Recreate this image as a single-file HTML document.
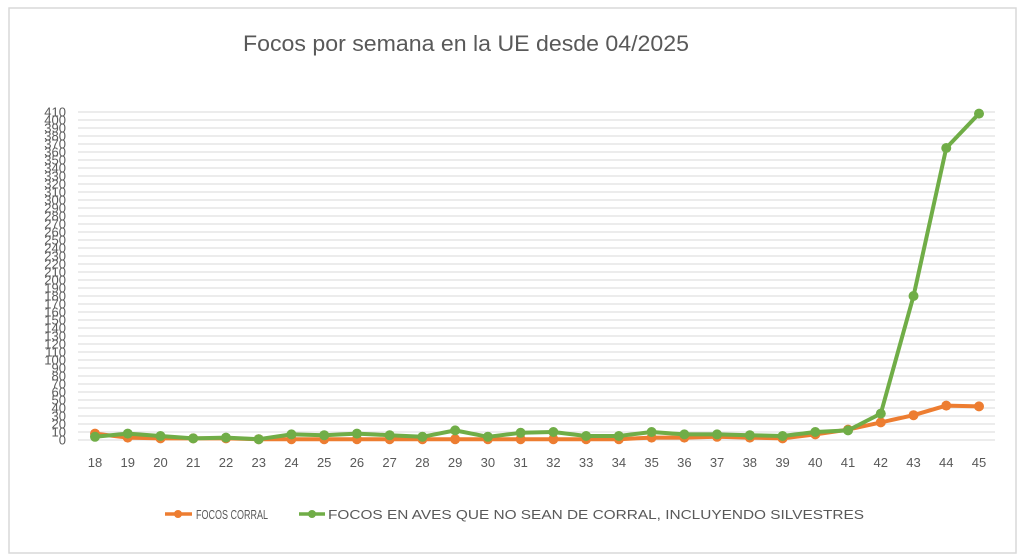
<!DOCTYPE html>
<html><head><meta charset="utf-8"><style>
html,body{margin:0;padding:0;background:#fff;}
svg{display:block;font-family:"Liberation Sans",sans-serif;}
</style></head><body>
<svg id="s" width="1024" height="560" xmlns="http://www.w3.org/2000/svg">
<rect x="9" y="8" width="1007" height="545" fill="#fff" stroke="#d9d9d9" stroke-width="1.5"/>
<text x="466" y="51" text-anchor="middle" font-size="22" fill="#595959" textLength="446" lengthAdjust="spacingAndGlyphs">Focos por semana en la UE desde 04/2025</text>
<g id="grid"></g><g id="lab"></g><g id="ser"></g>
<line x1="165" y1="514" x2="192" y2="514" stroke="#ed7d31" stroke-width="3.5"/><circle cx="178" cy="514" r="4" fill="#ed7d31"/>
<text x="196" y="519" font-size="13" fill="#595959" textLength="72" lengthAdjust="spacingAndGlyphs">FOCOS CORRAL</text>
<line x1="299" y1="514" x2="325" y2="514" stroke="#70ad47" stroke-width="3.5"/><circle cx="312" cy="514" r="4" fill="#70ad47"/>
<text x="328" y="519" font-size="13" fill="#595959" textLength="536" lengthAdjust="spacingAndGlyphs">FOCOS EN AVES QUE NO SEAN DE CORRAL, INCLUYENDO SILVESTRES</text>
</svg>
<script>
var ns="http://www.w3.org/2000/svg";
function el(p,t,a,txt){var e=document.createElementNS(ns,t);for(var k in a)e.setAttribute(k,a[k]);if(txt!=null)e.textContent=txt;document.getElementById(p).appendChild(e);}
var y0=440,sc=0.8;function Y(v){return y0-v*sc;}
for(var v=0;v<=410;v+=10){el("grid","line",{x1:78,x2:995,y1:Y(v),y2:Y(v),stroke:"#d9d9d9","stroke-width":1});
el("lab","text",{x:66,y:Y(v)+4.5,"text-anchor":"end","font-size":"13",fill:"#595959"},v);}
var x0=95,dx=(979-95)/27;
for(var i=0;i<28;i++)el("lab","text",{x:x0+i*dx,y:467,"text-anchor":"middle","font-size":"13",fill:"#595959"},18+i);
var o=[8,3,2,2,2,1,1,1,1,1,1,1,1,1,1,1,1,3,3,4,3,2,7,13,22,31,43,42];
var g=[4,8,5,2,3,1,7,6,8,6,4,12,4,9,10,5,5,10,7,7,6,5,10,12,33,180,365,408];
[[o,"#ed7d31"],[g,"#70ad47"]].forEach(function(s){var pts=s[0].map(function(v,i){return (x0+i*dx)+","+Y(v);}).join(" ");
el("ser","polyline",{points:pts,fill:"none",stroke:s[1],"stroke-width":4,"stroke-linejoin":"round"});
s[0].forEach(function(v,i){el("ser","circle",{cx:x0+i*dx,cy:Y(v),r:5,fill:s[1]});});});
</script>
</body></html>
